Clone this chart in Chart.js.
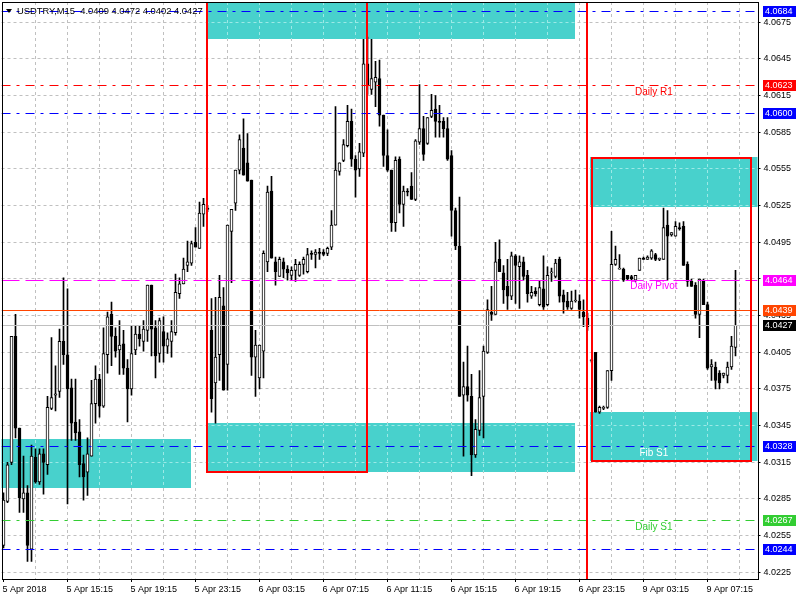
<!DOCTYPE html>
<html>
<head>
<meta charset="utf-8">
<script src="https://cdn.jsdelivr.net/npm/chart.js@4.4.1/dist/chart.umd.min.js"></script>
<style>
html,body{margin:0;padding:0;background:#fff;}
#wrap{width:800px;height:600px;position:relative;}
canvas{display:block;}
</style>
</head>
<body>
<div id="wrap"><canvas id="c" width="800" height="600"></canvas></div>
<script>
// ---------------- DATA ----------------
const symbolName = 'USDTRY,M15';

const openP = [
4.0247,4.0283,4.0315,4.0418,4.0343,4.0285,4.0290,4.0244,4.0319,4.0299,
4.0322,4.0313,4.0359,4.0370,4.0373,4.0414,4.0403,4.0376,4.0348,4.0340,
4.0314,4.0307,4.0320,4.0363,4.0383,4.0361,4.0403,4.0436,4.0418,4.0407,
4.0412,4.0392,4.0375,4.0407,4.0420,4.0414,4.0423,4.0460,4.0425,4.0404,
4.0422,4.0410,4.0414,4.0421,4.0453,4.0461,4.0476,4.0478,4.0495,4.0490,
4.0518,4.0523,4.0423,4.0380,4.0403,4.0443,4.0395,4.0504,4.0527,4.0554,
4.0572,4.0560,4.0546,4.0401,4.0384,4.0406,4.0479,4.0537,4.0479,4.0467,
4.0479,4.0473,4.0468,4.0472,4.0468,4.0477,4.0471,4.0486,4.0485,4.0487,
4.0487,4.0486,4.0491,4.0509,4.0553,4.0562,4.0574,4.0594,4.0563,4.0555,
4.0568,4.0641,4.0620,4.0626,4.0629,4.0599,4.0566,4.0554,4.0511,4.0563,
4.0526,4.0537,4.0541,4.0530,4.0577,4.0588,4.0576,4.0598,4.0604,4.0594,
4.0594,4.0588,4.0566,4.0521,4.0492,4.0370,4.0377,4.0369,4.0321,4.0341,
4.0369,4.0405,4.0438,4.0436,4.0481,4.0470,4.0459,4.0451,4.0484,4.0475,
4.0479,4.0468,4.0451,4.0455,4.0444,4.0457,4.0444,4.0470,4.0467,4.0481,
4.0452,4.0447,4.0441,4.0447,4.0447,4.0438,4.0433,4.0398,4.0405,4.0356,
4.0359,4.0360,4.0390,4.0477,4.0473,4.0473,4.0468,4.0467,4.0464,4.0472,
4.0482,4.0481,4.0482,4.0485,4.0481,4.0481,4.0509,4.0501,4.0500,4.0507,
4.0508,4.0477,4.0463,4.0460,4.0436,4.0463,4.0444,4.0393,4.0393,4.0388,
4.0386,4.0386,4.0393,4.0409
];
const highP = [
4.0290,4.0315,4.0418,4.0436,4.0343,4.0320,4.0296,4.0329,4.0326,4.0326,
4.0326,4.0369,4.0417,4.0394,4.0424,4.0466,4.0457,4.0383,4.0383,4.0350,
4.0321,4.0335,4.0382,4.0394,4.0387,4.0425,4.0438,4.0446,4.0425,4.0431,
4.0423,4.0399,4.0427,4.0427,4.0427,4.0431,4.0460,4.0460,4.0431,4.0433,
4.0434,4.0421,4.0431,4.0469,4.0466,4.0482,4.0496,4.0496,4.0507,4.0528,
4.0531,4.0525,4.0449,4.0450,4.0468,4.0458,4.0509,4.0522,4.0554,4.0583,
4.0596,4.0584,4.0546,4.0423,4.0411,4.0488,4.0541,4.0549,4.0483,4.0483,
4.0482,4.0476,4.0475,4.0481,4.0479,4.0483,4.0490,4.0488,4.0489,4.0490,
4.0489,4.0491,4.0521,4.0606,4.0560,4.0579,4.0607,4.0604,4.0566,4.0576,
4.0661,4.0663,4.0661,4.0643,4.0644,4.0599,4.0587,4.0554,4.0565,4.0565,
4.0541,4.0539,4.0552,4.0579,4.0624,4.0598,4.0597,4.0616,4.0615,4.0607,
4.0597,4.0597,4.0570,4.0523,4.0532,4.0397,4.0410,4.0387,4.0350,4.0390,
4.0410,4.0448,4.0459,4.0495,4.0497,4.0476,4.0481,4.0487,4.0485,4.0484,
4.0483,4.0472,4.0459,4.0458,4.0463,4.0484,4.0475,4.0474,4.0481,4.0483,
4.0456,4.0454,4.0455,4.0456,4.0452,4.0448,4.0437,4.0399,4.0405,4.0361,
4.0361,4.0390,4.0504,4.0492,4.0485,4.0474,4.0468,4.0468,4.0468,4.0482,
4.0483,4.0484,4.0489,4.0486,4.0482,4.0523,4.0521,4.0503,4.0512,4.0511,
4.0512,4.0479,4.0465,4.0462,4.0465,4.0465,4.0446,4.0399,4.0397,4.0390,
4.0388,4.0397,4.0418,4.0472
];
const lowP = [
4.0245,4.0282,4.0313,4.0335,4.0274,4.0274,4.0234,4.0234,4.0298,4.0297,
4.0289,4.0305,4.0358,4.0357,4.0368,4.0395,4.0281,4.0333,4.0333,4.0303,
4.0284,4.0288,4.0320,4.0347,4.0352,4.0360,4.0388,4.0394,4.0401,4.0387,
4.0387,4.0348,4.0370,4.0403,4.0410,4.0406,4.0414,4.0402,4.0384,4.0397,
4.0397,4.0404,4.0401,4.0419,4.0449,4.0461,4.0471,4.0476,4.0491,4.0490,
4.0508,4.0520,4.0356,4.0347,4.0382,4.0374,4.0374,4.0462,4.0521,4.0551,
4.0550,4.0545,4.0386,4.0369,4.0375,4.0384,4.0471,4.0482,4.0460,4.0467,
4.0466,4.0464,4.0464,4.0463,4.0467,4.0469,4.0470,4.0481,4.0474,4.0481,
4.0484,4.0484,4.0489,4.0509,4.0550,4.0561,4.0573,4.0557,4.0532,4.0549,
4.0565,4.0616,4.0616,4.0606,4.0590,4.0557,4.0553,4.0504,4.0504,4.0519,
4.0508,4.0533,4.0530,4.0529,4.0575,4.0562,4.0575,4.0597,4.0581,4.0581,
4.0581,4.0562,4.0500,4.0489,4.0369,4.0320,4.0365,4.0304,4.0319,4.0337,
4.0335,4.0404,4.0431,4.0436,4.0471,4.0445,4.0440,4.0448,4.0445,4.0441,
4.0464,4.0446,4.0449,4.0451,4.0443,4.0440,4.0443,4.0463,4.0466,4.0446,
4.0437,4.0440,4.0440,4.0446,4.0433,4.0426,4.0423,4.0397,4.0356,4.0355,
4.0358,4.0359,4.0382,4.0476,4.0473,4.0463,4.0464,4.0464,4.0463,4.0472,
4.0481,4.0481,4.0481,4.0480,4.0480,4.0481,4.0464,4.0500,4.0500,4.0505,
4.0476,4.0459,4.0459,4.0433,4.0417,4.0444,4.0391,4.0382,4.0375,4.0375,
4.0384,4.0380,4.0391,4.0402
];
const closeP = [
4.0284,4.0313,4.0418,4.0343,4.0286,4.0290,4.0247,4.0320,4.0299,4.0322,
4.0315,4.0360,4.0368,4.0371,4.0414,4.0403,4.0375,4.0347,4.0339,4.0313,
4.0303,4.0322,4.0363,4.0383,4.0361,4.0404,4.0434,4.0418,4.0406,4.0411,
4.0392,4.0375,4.0404,4.0420,4.0416,4.0424,4.0460,4.0424,4.0402,4.0431,
4.0410,4.0416,4.0422,4.0454,4.0461,4.0473,4.0479,4.0494,4.0491,4.0519,
4.0526,4.0522,4.0367,4.0401,4.0450,4.0374,4.0509,4.0522,4.0554,4.0579,
4.0550,4.0545,4.0401,4.0411,4.0411,4.0486,4.0536,4.0482,4.0471,4.0481,
4.0473,4.0470,4.0472,4.0477,4.0477,4.0481,4.0485,4.0485,4.0487,4.0486,
4.0485,4.0490,4.0509,4.0554,4.0560,4.0575,4.0594,4.0563,4.0554,4.0569,
4.0641,4.0624,4.0629,4.0630,4.0599,4.0566,4.0554,4.0511,4.0562,4.0526,
4.0537,4.0536,4.0530,4.0578,4.0588,4.0567,4.0597,4.0603,4.0594,4.0593,
4.0588,4.0563,4.0521,4.0492,4.0369,4.0377,4.0370,4.0321,4.0342,4.0368,
4.0406,4.0440,4.0436,4.0479,4.0471,4.0456,4.0451,4.0484,4.0476,4.0479,
4.0467,4.0453,4.0454,4.0453,4.0458,4.0442,4.0468,4.0470,4.0478,4.0451,
4.0446,4.0442,4.0447,4.0447,4.0440,4.0434,4.0426,4.0398,4.0356,4.0360,
4.0360,4.0390,4.0477,4.0481,4.0474,4.0464,4.0465,4.0465,4.0468,4.0482,
4.0481,4.0483,4.0488,4.0481,4.0482,4.0507,4.0500,4.0503,4.0508,4.0506,
4.0476,4.0463,4.0459,4.0436,4.0465,4.0444,4.0392,4.0395,4.0382,4.0380,
4.0388,4.0393,4.0410,4.0427
];

// time axis
const totalSlots = 189;          // bars + empty right shift
const xTickEvery = 16;
const xGridEvery = 8;
const xTickLabels = ['5 Apr 2018','5 Apr 15:15','5 Apr 19:15','5 Apr 23:15','6 Apr 03:15','6 Apr 07:15',
                     '6 Apr 11:15','6 Apr 15:15','6 Apr 19:15','6 Apr 23:15','9 Apr 03:15','9 Apr 07:15'];

// price axis
const yMin = 4.021952, yMax = 4.069162;
const yTicks = [4.0225,4.0255,4.0285,4.0315,4.0345,4.0375,4.0405,4.0435,4.0465,4.0495,4.0525,4.0555,4.0585,4.0615,4.0645,4.0675];

// horizontal levels
const levelPrices = [4.0684, 4.0623, 4.0600, 4.0464, 4.0439, 4.0427, 4.0328, 4.0267, 4.0244];
const levelNames  = ['', 'Daily R1', '', 'Daily Pivot', '', '', 'Fib S1', 'Daily S1', ''];
const levelNameAt = 162.6; // bar index where level names are centred

// zones (bar index range, price range)
const zoneStart  = [51.125, -2, 51.125, 146.625, 146.625];
const zoneEnd    = [142.875, 46.75, 142.875, 195, 195];
const zoneTop    = [4.0720, 4.03341, 4.03472, 4.05646, 4.03564];
const zoneBottom = [4.06616, 4.02942, 4.03071, 4.05241, 4.03161];

// red frames
const frameStart  = [50.875, 147.125];
const frameEnd    = [90.875, 186.875];
const frameTop    = [4.0720, 4.0564];
const frameBottom = [4.03071, 4.03161];
const separatorAt = [145.875];

// ---------------- STYLES ----------------
const BLUE = '#0000FF', RED = '#FF0000', MAGENTA = '#FF00FF', ORANGE = '#FF4500', GREEN = '#32CD32';
const levelStyle = [
  {color: BLUE, dash: [9,6,3,6], box: BLUE, text: '#fff'},
  {color: RED, dash: [9,6,3,6], box: RED, text: '#fff', name: RED},
  {color: BLUE, dash: [9,6,3,6], box: BLUE, text: '#fff'},
  {color: MAGENTA, dash: [18,6], box: MAGENTA, text: '#fff', name: MAGENTA},
  {color: ORANGE, dash: [], box: ORANGE, text: '#fff'},
  {color: '#C0C0C0', dash: [], box: '#000', text: '#fff'},
  {color: BLUE, dash: [9,6,3,6], box: BLUE, text: '#fff', name: '#FFFFFF'},
  {color: GREEN, dash: [9,6,3,6], box: GREEN, text: '#fff', name: GREEN},
  {color: BLUE, dash: [9,6,3,6], box: BLUE, text: '#fff'}
];
const ZONE_COLOR = '#48D1CC';
const GRID_COLOR = '#C0C0C0';
const GRID_ON_ZONE = '#9CE9E6';
const AXIS_FAMILY = '"Liberation Sans", Arial, sans-serif';
const AXIS_FONT = {family: AXIS_FAMILY, size: 9};
const TEXT_FAMILY = '"Liberation Sans", Arial, sans-serif';

// ---------------- CHART ----------------
const labels = Array.from({length: totalSlots}, (_, i) => i);
const bodies = openP.map((o, i) => [o, closeP[i]]);
const wicks = lowP.map((l, i) => [l, highP[i]]);

const overlay = {
  id: 'overlay',
  beforeDatasetsDraw(chart) {
    const {ctx, chartArea: a, scales: {x, y}} = chart;
    ctx.save();
    ctx.beginPath(); ctx.rect(a.left, a.top, a.width, a.height); ctx.clip();
    const rects = zoneStart.map((s, i) => {
      const x1 = Math.round(x.getPixelForValue(s)), x2 = Math.round(x.getPixelForValue(zoneEnd[i]));
      const y1 = Math.round(y.getPixelForValue(zoneTop[i])), y2 = Math.round(y.getPixelForValue(zoneBottom[i]));
      return {x: x1, y: y1, w: x2 - x1, h: y2 - y1};
    });
    ctx.fillStyle = ZONE_COLOR;
    rects.forEach(r => ctx.fillRect(r.x, r.y, r.w, r.h));
    // grid shows through the zones in a light tint
    ctx.strokeStyle = GRID_ON_ZONE; ctx.lineWidth = 1; ctx.setLineDash([3,3]);
    rects.forEach(r => {
      ctx.save(); ctx.beginPath(); ctx.rect(r.x, r.y, r.w, r.h); ctx.clip();
      yTicks.forEach(v => {
        const p = Math.round(y.getPixelForValue(v) - 0.5) + 0.5;
        ctx.beginPath(); ctx.moveTo(a.left, p); ctx.lineTo(a.right, p); ctx.stroke();
      });
      for (let i = xGridEvery; i < totalSlots; i += xGridEvery) {
        const p = Math.round(x.getPixelForTick(i) - 0.5) + 0.5;
        ctx.beginPath(); ctx.moveTo(p, a.top); ctx.lineTo(p, a.bottom); ctx.stroke();
      }
      ctx.restore();
    });
    ctx.restore();
  },
  afterDatasetsDraw(chart) {
    const {ctx, chartArea: a, scales: {x, y}} = chart;
    ctx.save();
    ctx.beginPath(); ctx.rect(a.left, a.top, a.width, a.height); ctx.clip();
    // level lines
    levelPrices.forEach((p, i) => {
      const st = levelStyle[i];
      const py = Math.floor(y.getPixelForValue(p)) + 0.5;
      ctx.strokeStyle = st.color; ctx.lineWidth = 1; ctx.setLineDash(st.dash);
      ctx.beginPath(); ctx.moveTo(a.left, py); ctx.lineTo(a.right, py); ctx.stroke();
    });
    ctx.setLineDash([]);
    // red frames
    ctx.strokeStyle = RED; ctx.lineWidth = 2;
    frameStart.forEach((s, i) => {
      const x1 = Math.round(x.getPixelForValue(s)), x2 = Math.round(x.getPixelForValue(frameEnd[i]));
      const y1 = Math.round(y.getPixelForValue(frameTop[i])), y2 = Math.round(y.getPixelForValue(frameBottom[i]));
      ctx.strokeRect(x1, y1, x2 - x1, y2 - y1);
    });
    separatorAt.forEach(s => {
      const px = Math.round(x.getPixelForValue(s));
      ctx.beginPath(); ctx.moveTo(px, a.top); ctx.lineTo(px, a.bottom); ctx.stroke();
    });
    // level names
    ctx.font = '10px ' + TEXT_FAMILY;
    ctx.textAlign = 'center'; ctx.textBaseline = 'middle';
    levelNames.forEach((n, i) => {
      if (!n) return;
      ctx.fillStyle = levelStyle[i].name;
      ctx.fillText(n, x.getPixelForValue(levelNameAt), y.getPixelForValue(levelPrices[i]) + 6.5);
    });
    ctx.restore();

    // price boxes on the axis
    ctx.save();
    ctx.font = '9px ' + AXIS_FAMILY;
    ctx.textAlign = 'left'; ctx.textBaseline = 'middle';
    levelPrices.forEach((p, i) => {
      const st = levelStyle[i];
      const py = Math.floor(y.getPixelForValue(p));
      ctx.fillStyle = st.box;
      ctx.fillRect(a.right + 5.5, py - 5, 33, 11);
      ctx.fillStyle = st.text;
      ctx.fillText(p.toFixed(4), a.right + 7.5, py + 1);
    });
    // header
    const last = openP.length - 1;
    ctx.fillStyle = '#000';
    ctx.beginPath(); ctx.moveTo(6, 9); ctx.lineTo(12, 9); ctx.lineTo(9, 13); ctx.closePath(); ctx.fill();
    ctx.font = '9.4px ' + AXIS_FAMILY;
    ctx.textBaseline = 'middle';
    ctx.fillText(symbolName + '  ' + [openP[last], highP[last], lowP[last], closeP[last]].map(v => v.toFixed(4)).join(' '), 17, 11);
    // frame
    ctx.strokeStyle = '#000'; ctx.lineWidth = 1;
    const L = Math.round(a.left) + 0.5, R = Math.round(a.right) + 0.5, T = Math.round(a.top) + 0.5, B = Math.round(a.bottom) + 0.5;
    ctx.strokeRect(L, T, R - L, B - T);
    ctx.restore();
  }
};

function noPad(s) { s.paddingTop = 0; s.paddingBottom = 0; s.paddingLeft = 0; s.paddingRight = 0; }

new Chart(document.getElementById('c'), {
  type: 'bar',
  data: {
    labels: labels,
    datasets: [
      {
        data: bodies,
        grouped: false,
        barThickness: 3,
        borderWidth: 1,
        borderColor: '#000',
        borderSkipped: false,
        minBarLength: 1,
        backgroundColor: c => (closeP[c.dataIndex] >= openP[c.dataIndex] ? '#FFFFFF' : '#000000'),
        order: 0
      },
      {
        data: wicks,
        grouped: false,
        barThickness: 1,
        borderWidth: 0,
        minBarLength: 1,
        backgroundColor: '#000',
        order: 1
      }
    ]
  },
  options: {
    responsive: false,
    animation: false,
    devicePixelRatio: 1,
    events: [],
    layout: {padding: {left: 1.5, top: 2, right: 0.5, bottom: 0}},
    plugins: {legend: {display: false}, tooltip: {enabled: false}, title: {display: false}},
    scales: {
      x: {
        type: 'category',
        offset: true,
        grid: {
          offset: false,
          lineWidth: 1,
          color: c => (c.index > 0 && c.index % xGridEvery === 0 ? GRID_COLOR : 'rgba(0,0,0,0)'),
          tickColor: c => (c.index % xTickEvery === 0 ? '#000' : 'rgba(0,0,0,0)'),
          tickLength: 3,
          drawTicks: true
        },
        border: {display: false, dash: [3,3]},
        ticks: {
          autoSkip: false, maxRotation: 0, minRotation: 0,
          align: 'start', labelOffset: -1, padding: 2,
          color: '#000', font: AXIS_FONT,
          callback: (v, i) => (i % xTickEvery === 0 ? (xTickLabels[i / xTickEvery] || '') : '')
        },
        afterFit: s => { s.height = 21; noPad(s); }
      },
      y: {
        type: 'linear',
        position: 'right',
        min: yMin, max: yMax,
        afterBuildTicks: s => { s.ticks = yTicks.map(v => ({value: v})); },
        grid: {color: GRID_COLOR, lineWidth: 1, tickColor: '#000', tickLength: 3, drawTicks: true},
        border: {display: false, dash: [3,3]},
        ticks: {padding: 3, color: '#000', font: AXIS_FONT, callback: v => Number(v).toFixed(4)},
        afterFit: s => { s.width = 42; noPad(s); }
      }
    }
  },
  plugins: [overlay]
});
</script>
</body>
</html>
